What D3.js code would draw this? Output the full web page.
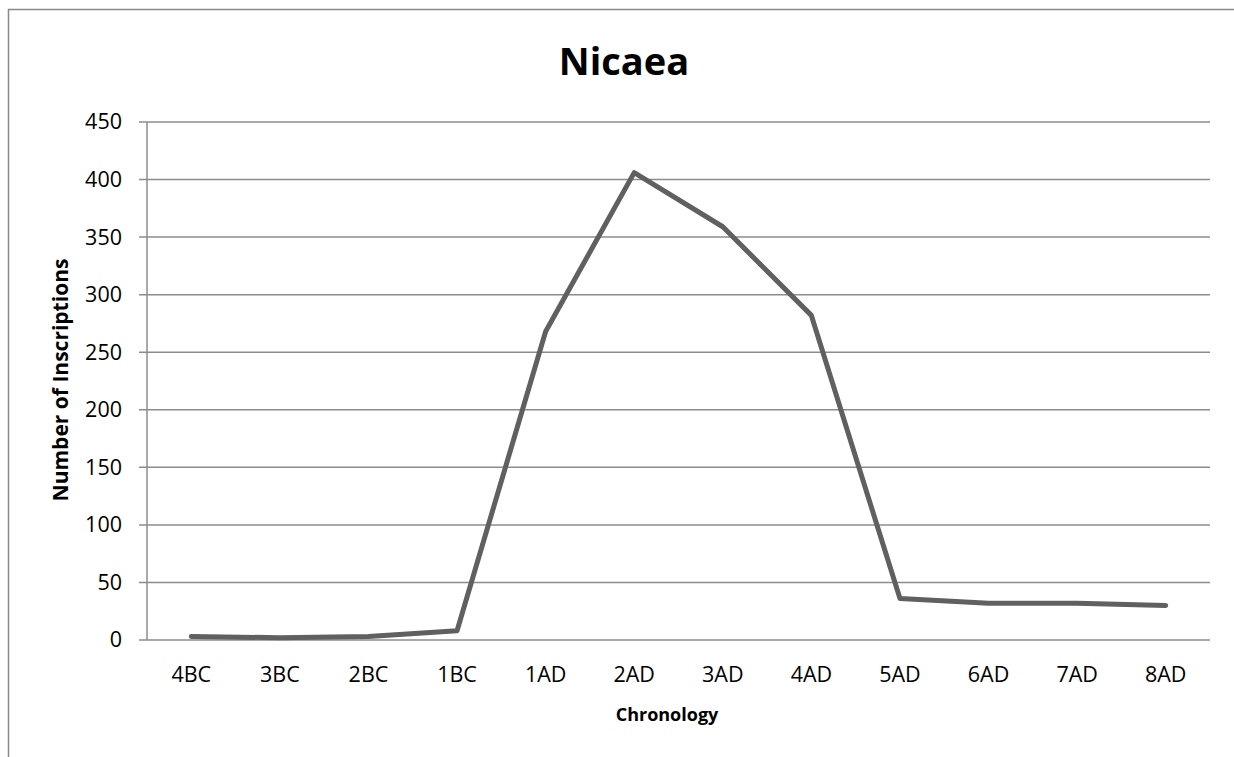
<!DOCTYPE html>
<html><head><meta charset="utf-8">
<script src="https://cdn.jsdelivr.net/npm/d3@7"></script>
<style>html,body{margin:0;padding:0;background:#fff;overflow:hidden}</style>
</head><body>
<svg id="c" width="1234" height="757"></svg>
<script>
const categories = ["4BC","3BC","2BC","1BC","1AD","2AD","3AD","4AD","5AD","6AD","7AD","8AD"];
const inscriptions = [3,2,3,8,268,406,359,282,36,32,32,30];
const yTicks = [0,50,100,150,200,250,300,350,400,450];
const title = "Nicaea";
const xTitle = "Chronology";
const yTitle = "Number of Inscriptions";

const svg = d3.select("#c");
const font = "'Open Sans', sans-serif";
const m = {left:147, right:1210, top:122, bottom:640};

svg.append("rect").attr("x",8.5).attr("y",9.5).attr("width",1300).attr("height",900)
  .attr("fill","none").attr("stroke","#898989").attr("stroke-width",1.5);

const x = d3.scaleBand().domain(categories).range([m.left,m.right]);
const y = d3.scaleLinear().domain([0,450]).range([m.bottom,m.top]);

// gridlines
svg.append("g").selectAll("line").data(yTicks).join("line")
  .attr("x1",m.left-8).attr("x2",m.right)
  .attr("y1",d=>y(d)).attr("y2",d=>y(d))
  .attr("stroke","#8c8c8c").attr("stroke-width",1.5);

// y axis labels
const ya = svg.append("g").attr("transform",`translate(${m.left},0)`)
  .call(d3.axisLeft(y).tickValues(yTicks).tickSize(0).tickPadding(25));
ya.select(".domain").remove();
ya.selectAll("text").attr("font-family",font).attr("font-size",21.5).attr("fill","#000");

svg.append("line").attr("x1",m.left).attr("x2",m.left).attr("y1",m.top).attr("y2",m.bottom)
  .attr("stroke","#8c8c8c").attr("stroke-width",1.5);

// x axis
const xa = svg.append("g").attr("transform",`translate(0,${m.bottom})`)
  .call(d3.axisBottom(x).tickSize(0).tickPadding(27));
xa.select(".domain").remove();
xa.selectAll("text").attr("font-family",font).attr("font-size",21.5).attr("fill","#000");

// line
const line = d3.line().x((d,i)=>x(categories[i])+x.bandwidth()/2).y(d=>y(d));
svg.append("path").datum(inscriptions).attr("d",line)
  .attr("fill","none").attr("stroke","#606060").attr("stroke-width",5)
  .attr("stroke-linejoin","round").attr("stroke-linecap","round");

// titles
svg.append("text").attr("x",624).attr("y",75).attr("text-anchor","middle")
  .attr("font-family",font).attr("font-weight","bold").attr("font-size",38).text(title);
svg.append("text").attr("x",667).attr("y",721).attr("text-anchor","middle")
  .attr("font-family",font).attr("font-weight","bold").attr("font-size",18).text(xTitle);
svg.append("text").attr("transform","translate(68,380) rotate(-90)").attr("text-anchor","middle")
  .attr("font-family",font).attr("font-weight","bold").attr("font-size",21).text(yTitle);
</script>
</body></html>
